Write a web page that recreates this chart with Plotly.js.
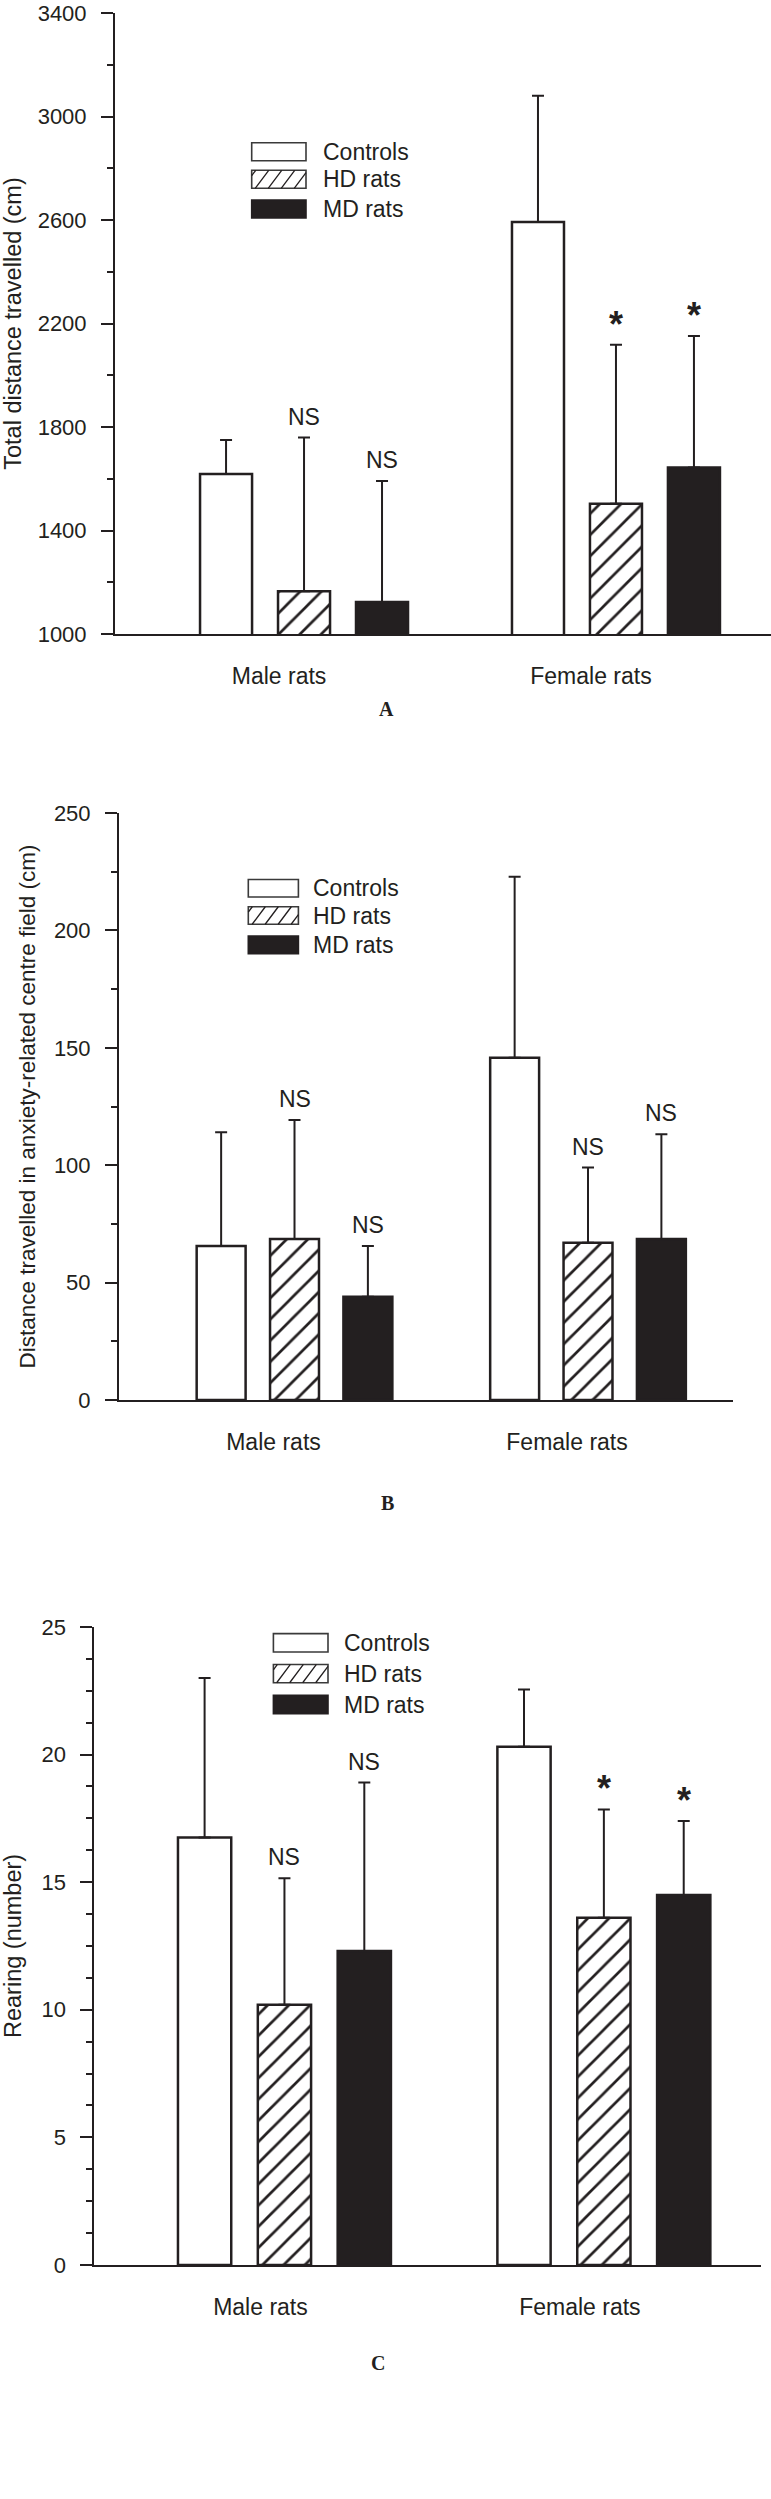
<!DOCTYPE html>
<html>
<head>
<meta charset="utf-8">
<script src="https://cdn.plot.ly/plotly-3.0.1.min.js"></script>
<style>html,body{margin:0;padding:0;background:#fff;}</style>
</head>
<body>
<div id="chart" style="width:771px;height:2499px;"></div>
<script>
// ---------- data ----------
const groups = ['Male rats', 'Female rats'];
const seriesNames = ['Controls', 'HD rats', 'MD rats'];

// Panel A: total distance travelled (cm)
const distControls = [1618, 2592];
const distControlsErr = [132, 488];
const distHD = [1165, 1503];
const distHDErr = [594, 615];
const distMD = [1124, 1643];
const distMDErr = [467, 509];
const distSig = [['', ''], ['NS', '*'], ['NS', '*']];

// Panel B: distance travelled in centre field (cm)
const centreControls = [65.6, 145.8];
const centreControlsErr = [48.4, 77];
const centreHD = [68.6, 67];
const centreHDErr = [50.7, 32];
const centreMD = [44, 68.6];
const centreMDErr = [21.6, 44.6];
const centreSig = [['', ''], ['NS', 'NS'], ['NS', 'NS']];

// Panel C: rearing (number)
const rearControls = [16.75, 20.3];
const rearControlsErr = [6.25, 2.25];
const rearHD = [10.2, 13.6];
const rearHDErr = [4.95, 4.25];
const rearMD = [12.3, 14.5];
const rearMDErr = [6.6, 2.9];
const rearSig = [['', ''], ['NS', '*'], ['NS', '*']];

// ---------- styling / layout ----------
const W = 771, H = 2499;
const INK = '#231f20';
const FONT = 'Liberation Sans, Arial, sans-serif';
const BARGAP = 0.25, GROUPGAP = 0.333;
const fx = p => p / W;
const fy = p => 1 - p / H;

const panels = [
  { suf: '', vals: [distControls, distHD, distMD], errs: [distControlsErr, distHDErr, distMDErr], sig: distSig,
    xpx: [115, 771], ypx: [13, 634], xrange: [-0.606, 1.497], yrange: [1000, 3400], dtick: 400, minor: 200,
    title: 'Total distance travelled (cm)', tsize: 23.5, standoff: 14, shift: -25,
    leg: { x0: 251.7, x1: 306, rows: [151.7, 179.3, 209], h: 18, tx: 320.7 },
    letter: 'A', lx: 386, ly: 709 },
  { suf: '2', vals: [centreControls, centreHD, centreMD], errs: [centreControlsErr, centreHDErr, centreMDErr], sig: centreSig,
    xpx: [119, 733.3], ypx: [813, 1400], xrange: [-0.598, 1.495], yrange: [0, 250], dtick: 50, minor: 25,
    title: 'Distance travelled in anxiety-related centre field (cm)', tsize: 22.5, standoff: 12, shift: -21,
    leg: { x0: 248.3, x1: 298.4, rows: [888.3, 915.5, 944.9], h: 17.5, tx: 311.2 },
    letter: 'B', lx: 387.5, ly: 1502.7 },
  { suf: '3', vals: [rearControls, rearHD, rearMD], errs: [rearControlsErr, rearHDErr, rearMDErr], sig: rearSig,
    xpx: [94.4, 760.7], ypx: [1626.9, 2265], xrange: [-0.595, 1.491], yrange: [0, 25], dtick: 5, minor: 1.25,
    title: 'Rearing (number)', tsize: 23.5, standoff: 14, shift: -24,
    leg: { x0: 273.4, x1: 328, rows: [1642.8, 1673.6, 1704.5], h: 18.3, tx: 341.7 },
    letter: 'C', lx: 377.7, ly: 2363.3 }
];

const fills = ['#ffffff', '#ffffff', INK];
const traces = [];
const shapes = [];
const annotations = [];
const layout = {
  width: W, height: H,
  margin: { l: 0, r: 0, t: 0, b: 0 },
  paper_bgcolor: '#fff', plot_bgcolor: 'rgba(0,0,0,0)',
  barmode: 'group', bargap: BARGAP, bargroupgap: GROUPGAP,
  showlegend: false,
  font: { family: FONT, color: INK, size: 23 }
};

const slot = (1 - BARGAP) / 3;

panels.forEach(p => {
  const xa = 'x' + p.suf, ya = 'y' + p.suf;
  p.vals.forEach((v, s) => {
    const marker = { color: fills[s], line: { color: INK, width: 2.5 } };
    if (s === 1) marker.pattern = { shape: '/', fgcolor: INK, bgcolor: '#ffffff', size: 15, solidity: 0.18 };
    traces.push({
      type: 'bar', x: groups, y: v, name: seriesNames[s], xaxis: xa, yaxis: ya,
      marker: marker,
      error_y: { type: 'data', symmetric: false, array: p.errs[s], arrayminus: v.map(() => 0),
                 color: INK, thickness: 2, width: 6 },
      hoverinfo: 'skip'
    });
    // significance labels above error bars
    v.forEach((val, g) => {
      const txt = p.sig[s][g];
      if (!txt) return;
      const star = txt === '*';
      annotations.push({
        xref: xa, yref: ya, x: g + (s - 1) * slot, y: val + p.errs[s][g],
        text: star ? '<b>*</b>' : txt, showarrow: false,
        xanchor: 'center', yanchor: 'bottom', yshift: star ? -2 : 6,
        font: { family: FONT, size: star ? 36 : 23, color: INK }
      });
    });
  });

  layout['xaxis' + p.suf] = {
    domain: [fx(p.xpx[0]), fx(p.xpx[1])], anchor: ya, range: p.xrange,
    type: 'category', showline: true, linecolor: INK, linewidth: 2,
    ticks: '', showgrid: false, zeroline: false,
    tickfont: { family: FONT, size: 23, color: INK },
    ticklabelstandoff: 20, ticklabelshift: p.shift, fixedrange: true
  };
  layout['yaxis' + p.suf] = {
    domain: [fy(p.ypx[1]), fy(p.ypx[0])], anchor: xa, range: p.yrange,
    showline: true, linecolor: INK, linewidth: 2, showgrid: false, zeroline: false,
    ticks: 'outside', ticklen: 12, tickwidth: 2, tickcolor: INK, dtick: p.dtick, tick0: p.yrange[0],
    minor: { dtick: p.minor, ticks: 'outside', ticklen: 6, tickwidth: 2, tickcolor: INK, showgrid: false },
    tickfont: { family: FONT, size: 22, color: INK }, ticklabelstandoff: 10, ticklabeloverflow: 'allow',
    title: { text: p.title, font: { family: FONT, size: p.tsize, color: INK }, standoff: p.standoff },
    fixedrange: true
  };

  // legend drawn as swatches + labels
  const L = p.leg;
  L.rows.forEach((cy, s) => {
    const y0 = cy - L.h / 2, y1 = cy + L.h / 2;
    shapes.push({
      type: 'rect', xref: 'paper', yref: 'paper',
      x0: fx(L.x0), x1: fx(L.x1), y0: fy(y1), y1: fy(y0),
      fillcolor: fills[s], line: { color: s === 2 ? INK : '#3a3a3a', width: 1.6 }
    });
    if (s === 1) {
      const sp = 13, dx = L.h * 0.75;
      let d = '';
      for (let xb = L.x0 - dx + 4; xb < L.x1; xb += sp) {
        let t0 = 0, t1 = 1;
        if (xb < L.x0) t0 = (L.x0 - xb) / dx;
        if (xb + dx > L.x1) t1 = (L.x1 - xb) / dx;
        if (t1 <= t0) continue;
        const ax = xb + dx * t0, ay = y1 - L.h * t0;
        const bx = xb + dx * t1, by = y1 - L.h * t1;
        d += 'M' + fx(ax) + ',' + fy(ay) + 'L' + fx(bx) + ',' + fy(by);
      }
      shapes.push({ type: 'path', xref: 'paper', yref: 'paper', path: d, line: { color: INK, width: 1.3 } });
    }
    annotations.push({
      xref: 'paper', yref: 'paper', x: fx(L.tx), y: fy(cy), xanchor: 'left', yanchor: 'middle',
      text: seriesNames[s], showarrow: false, font: { family: FONT, size: 23, color: INK }
    });
  });

  annotations.push({
    xref: 'paper', yref: 'paper', x: fx(p.lx), y: fy(p.ly), xanchor: 'center', yanchor: 'middle',
    text: '<b>' + p.letter + '</b>', showarrow: false,
    font: { family: 'Liberation Serif, Times New Roman, serif', size: 20, color: INK }
  });
});

layout.shapes = shapes;
layout.annotations = annotations;

Plotly.newPlot('chart', traces, layout, { displayModeBar: false, staticPlot: true });
</script>
</body>
</html>
